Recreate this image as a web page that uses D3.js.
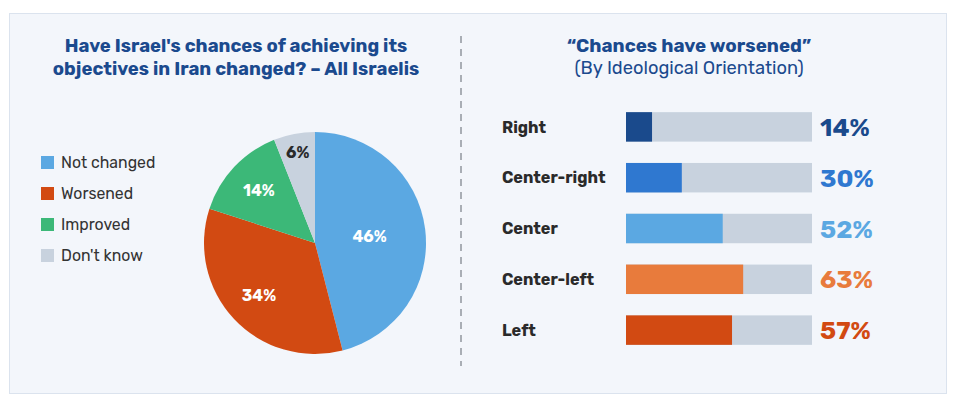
<!DOCTYPE html>
<html><head><meta charset="utf-8">
<script src="https://cdn.jsdelivr.net/npm/d3@7"></script>
<style>body{margin:0;background:#fff}svg{display:block;font-family:Rubik,"Open Sans",sans-serif}</style>
</head><body><svg></svg>
<script>
const pieLabels = ['Not changed', 'Worsened', 'Improved', "Don't know"]
const pieValues = [46, 34, 14, 6]
const pieColors = ['#5ba8e2', '#d24a12', '#3cb878', '#c8d2de']

const groups = ['Right', 'Center-right', 'Center', 'Center-left', 'Left']
const worsened = [14, 30, 52, 63, 57]
const barColors = ['#1a4a8c', '#2f78d0', '#5ba8e2', '#e87b3c', '#d24a12']

const svg = d3.select('svg').attr('width', 957).attr('height', 405)

svg.append('rect').attr('x', 9.5).attr('y', 13.5).attr('width', 937).attr('height', 380)
    .attr('fill', '#f3f6fb').attr('stroke', '#dbe3ee')

svg.append('line').attr('x1', 461).attr('x2', 461).attr('y1', 36).attr('y2', 366)
    .attr('stroke', '#a9aeb5').attr('stroke-width', 2).attr('stroke-dasharray', '7,6')

// left title
const t1 = svg.append('text').attr('text-anchor', 'middle').attr('fill', '#1b4a8e')
    .style('font-weight', 700).style('font-size', '18.5px')
t1.append('tspan').attr('x', 236).attr('y', 52).text("Have Israel's chances of achieving its")
t1.append('tspan').attr('x', 236).attr('y', 75).text('objectives in Iran changed? \u2013 All Israelis')

// pie
const pie = d3.pie().sort(null)(pieValues)
const arc = d3.arc().innerRadius(0).outerRadius(111)
const pg = svg.append('g').attr('transform', 'translate(315,243)')
pg.selectAll('path').data(pie).join('path').attr('d', arc)
    .attr('fill', (d, i) => pieColors[i])
const lblPos = [55, 77, 77, 92]
pg.selectAll('text').data(pie).join('text')
    .attr('transform', (d, i) => `translate(${d3.arc().innerRadius(lblPos[i]).outerRadius(lblPos[i]).centroid(d)})`)
    .attr('text-anchor', 'middle').attr('dy', '0.35em')
    .attr('fill', (d, i) => i == 3 ? '#2a2a2a' : '#fff')
    .style('font-weight', 700).style('font-size', '16px')
    .text(d => d.data + '%')

// legend
const lg = svg.selectAll('.lg').data(pieLabels).join('g')
    .attr('transform', (d, i) => `translate(41,${156 + i * 31})`)
lg.append('rect').attr('width', 13).attr('height', 13).attr('fill', (d, i) => pieColors[i])
lg.append('text').attr('x', 20).attr('y', 12).attr('fill', '#333').style('font-size', '15.8px').text(d => d)

// right title
svg.append('text').attr('x', 689).attr('y', 52).attr('text-anchor', 'middle').attr('fill', '#1b4a8e')
    .style('font-weight', 700).style('font-size', '18.8px').text('\u201cChances have worsened\u201d')
svg.append('text').attr('x', 689).attr('y', 74).attr('text-anchor', 'middle').attr('fill', '#1b4a8e')
    .style('font-size', '18.3px').text('(By Ideological Orientation)')

// bars
const x = d3.scaleLinear().domain([0, 100]).range([626, 812])
const y = d3.scaleBand().domain(groups).range([102, 355]).paddingInner(0.42).paddingOuter(0.2)
const bg = svg.selectAll('.bar').data(groups).join('g')
bg.append('rect').attr('x', x(0)).attr('y', d => y(d)).attr('width', x(100) - x(0))
    .attr('height', y.bandwidth()).attr('fill', '#c8d2de')
bg.append('rect').attr('x', x(0)).attr('y', d => y(d)).attr('width', (d, i) => x(worsened[i]) - x(0))
    .attr('height', y.bandwidth()).attr('fill', (d, i) => barColors[i])
bg.append('text').attr('x', 502).attr('y', d => y(d) + y.bandwidth() / 2).attr('dy', '0.35em')
    .attr('fill', '#2a2a2a').style('font-weight', 700).style('font-size', '16.2px').text(d => d)
bg.append('text').attr('x', 820).attr('y', d => y(d) + y.bandwidth() / 2).attr('dy', '0.36em')
    .attr('fill', (d, i) => barColors[i]).style('font-weight', 700).style('font-size', '25px')
    .text((d, i) => worsened[i] + '%')
</script></body></html>
